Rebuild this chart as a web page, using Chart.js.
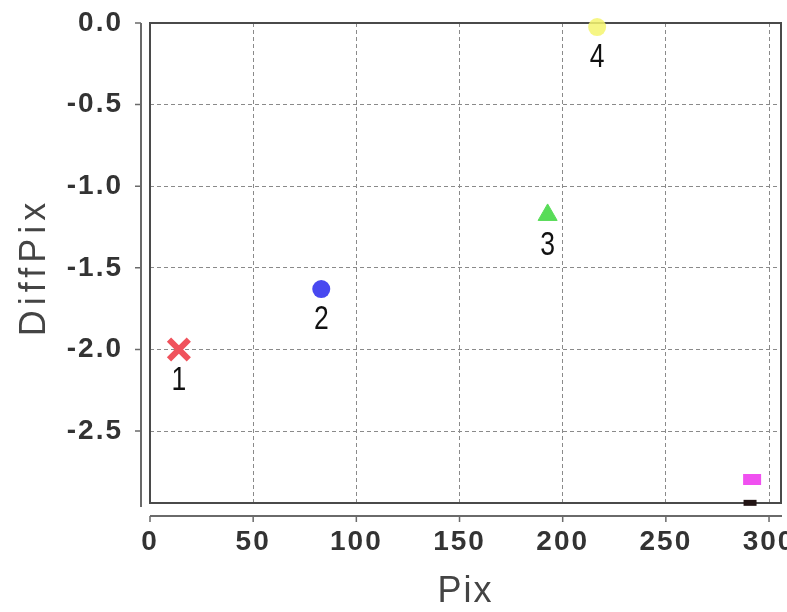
<!DOCTYPE html>
<html>
<head>
<meta charset="utf-8">
<script src="https://cdn.jsdelivr.net/npm/chart.js@4.4.1/dist/chart.umd.min.js"></script>
<style>
  html, body { margin: 0; padding: 0; background: #fff; }
  #wrap { width: 787px; height: 612px; position: relative; }
</style>
</head>
<body>
<div id="wrap"><canvas id="diffChart"></canvas></div>
<script>
// Values
const pixValues = [14, 83, 192.7, 216.7, 291.8, 290.8];
const diffPixValues = [-2.0, -1.63, -1.176, -0.025, -2.797, -2.94];
const pointNames = ['1', '2', '3', '4', '', ''];
const xTickValues = [0, 50, 100, 150, 200, 250, 300];
const yTickValues = [0, -0.5, -1.0, -1.5, -2.0, -2.5];
const xTitle = 'Pix';
const yTitle = 'DiffPix';

// marker look per point
const markerStyles = [
    { pointStyle: 'crossRot', radius: 14, borderWidth: 6, color: 'rgb(240, 82, 92)' },
    { pointStyle: 'circle', radius: 9, borderWidth: 0, color: 'rgb(72, 72, 240)' },
    { pointStyle: 'triangle', radius: 11, borderWidth: 1, color: 'rgb(88, 220, 88)' },
    { pointStyle: 'circle', radius: 9, borderWidth: 0, color: 'rgba(245, 245, 110, 0.85)' },
    { pointStyle: 'line', radius: 9, borderWidth: 11, color: 'rgb(240, 80, 240)' },
    { pointStyle: 'line', radius: 6.5, borderWidth: 6, color: 'rgb(34, 20, 20)' }
];

const datasets = pixValues.map((x, i) => ({
    label: pointNames[i] || ('p' + i),
    data: [{ x: x, y: diffPixValues[i] }],
    pointStyle: markerStyles[i].pointStyle,
    pointRadius: markerStyles[i].radius,
    pointHoverRadius: markerStyles[i].radius,
    pointBorderWidth: markerStyles[i].borderWidth,
    pointBorderColor: markerStyles[i].color,
    pointBackgroundColor: markerStyles[i].color,
    clip: false
}));

// box round the plot, offset axis lines, titles and point numbers
const framePlugin = {
    id: 'frame',
    beforeDraw(chart) {
        chart.ctx.letterSpacing = '2px';
    },
    beforeDatasetsDraw(chart) {
        const { ctx, chartArea: a, scales } = chart;
        ctx.save();
        ctx.letterSpacing = '0px';
        // offset axes
        const axX = a.left - 9;
        const axY = a.bottom + 13;
        ctx.strokeStyle = '#6a6a6a';
        ctx.lineWidth = 2;
        ctx.beginPath();
        ctx.moveTo(axX, a.top);
        ctx.lineTo(axX, a.bottom + 4);
        ctx.moveTo(a.left, axY);
        ctx.lineTo(a.right + 1, axY);
        ctx.stroke();
        ctx.lineWidth = 1.5;
        ctx.beginPath();
        yTickValues.forEach(v => {
            const py = scales.y.getPixelForValue(v);
            ctx.moveTo(axX - 6, py);
            ctx.lineTo(axX, py);
        });
        xTickValues.forEach(v => {
            const px = scales.x.getPixelForValue(v);
            ctx.moveTo(px, axY);
            ctx.lineTo(px, axY + 6);
        });
        ctx.stroke();
        // plot box
        ctx.strokeStyle = '#4a4a4a';
        ctx.lineWidth = 2;
        ctx.strokeRect(a.left, a.top, a.right - a.left, a.bottom - a.top);
        ctx.restore();
    },
    afterDraw(chart) {
        const { ctx, chartArea: a } = chart;
        ctx.save();
        // point numbers under the first markers (narrowed a bit)
        ctx.letterSpacing = '0px';
        ctx.fillStyle = '#111';
        ctx.font = '34px "Liberation Sans", sans-serif';
        ctx.textAlign = 'center';
        ctx.textBaseline = 'middle';
        chart.data.datasets.forEach((ds, i) => {
            if (!pointNames[i]) return;
            const el = chart.getDatasetMeta(i).data[0];
            ctx.save();
            ctx.translate(el.x, el.y + 31);
            ctx.scale(0.78, 1);
            ctx.fillText(pointNames[i], 0, 0);
            ctx.restore();
        });
        // axis titles
        ctx.fillStyle = '#444';
        ctx.font = '36px "Liberation Sans", sans-serif';
        ctx.letterSpacing = '2px';
        ctx.textBaseline = 'alphabetic';
        ctx.fillText(xTitle, (a.left + a.right) / 2, 602);
        ctx.translate(45, (a.top + a.bottom) / 2 + 4);
        ctx.rotate(-Math.PI / 2);
        ctx.letterSpacing = '5px';
        ctx.fillText(yTitle, 0, 0);
        ctx.restore();
    }
};

const tickFont = { family: '"Liberation Sans", sans-serif', size: 28, weight: 'bold' };

new Chart(document.getElementById('diffChart'), {
    type: 'scatter',
    data: { datasets: datasets },
    options: {
        responsive: true,
        maintainAspectRatio: false,
        animation: false,
        events: [],
        layout: { autoPadding: false, padding: { top: 23, right: 6, left: 0, bottom: 0 } },
        plugins: {
            legend: { display: false },
            tooltip: { enabled: false }
        },
        scales: {
            x: {
                type: 'linear',
                min: 0,
                max: 305.8,
                afterBuildTicks: s => { s.ticks = xTickValues.map(v => ({ value: v })); },
                afterFit: s => { s.height = 109; s.paddingLeft = 0; s.paddingRight = 0; },
                grid: { color: '#8a8a8a', lineWidth: 1, drawTicks: false },
                border: { display: false, dash: [4, 3] },
                ticks: {
                    color: '#333',
                    font: tickFont,
                    padding: 22,
                    maxRotation: 0,
                    autoSkip: false,
                    callback: v => String(v)
                }
            },
            y: {
                type: 'linear',
                min: -2.941,
                max: 0,
                afterBuildTicks: s => { s.ticks = yTickValues.map(v => ({ value: v })); },
                afterFit: s => { s.width = 150; s.paddingTop = 0; s.paddingBottom = 0; },
                grid: { color: '#8a8a8a', lineWidth: 1, drawTicks: false },
                border: { display: false, dash: [4, 3] },
                ticks: {
                    color: '#333',
                    font: tickFont,
                    padding: 27,
                    autoSkip: false,
                    callback: v => v.toFixed(1)
                }
            }
        }
    },
    plugins: [framePlugin]
});
</script>
</body>
</html>
